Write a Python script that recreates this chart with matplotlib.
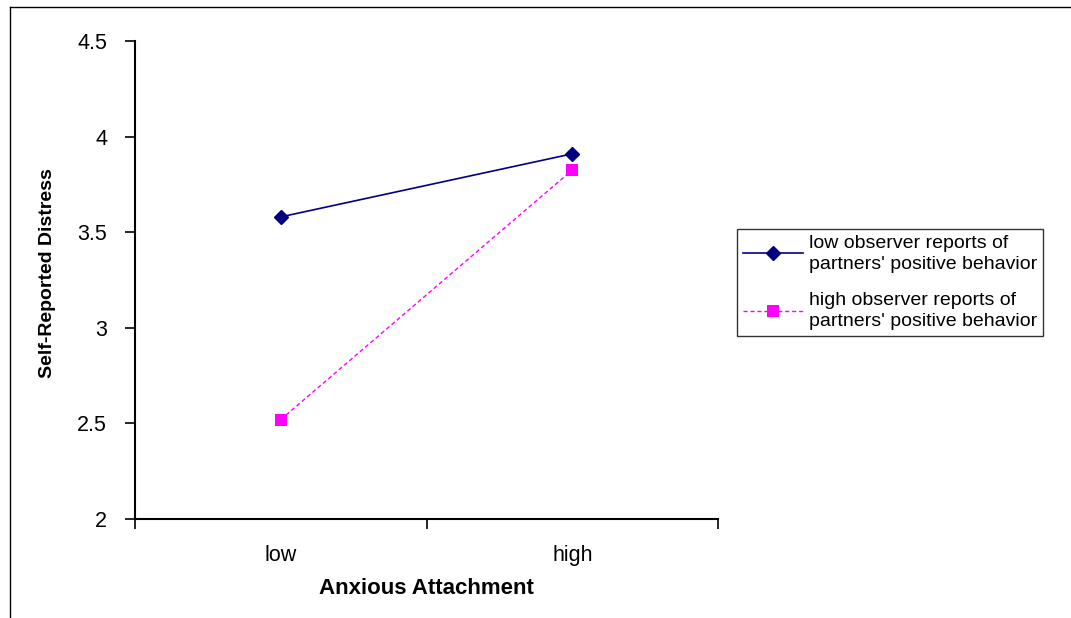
import matplotlib.pyplot as plt
from matplotlib.lines import Line2D

plt.rcParams['font.family'] = ['Liberation Sans', 'DejaVu Sans']

categories = ["low", "high"]
low_obs = [3.58, 3.91]
high_obs = [2.52, 3.825]
series_labels = [
    "low observer reports of\npartners' positive behavior",
    "high observer reports of\npartners' positive behavior",
]
yticks = [2, 2.5, 3, 3.5, 4, 4.5]

fig = plt.figure(figsize=(10.71, 6.18), dpi=100)
ax = fig.add_axes([135 / 1071, 1 - 519 / 618, 583 / 1071, 478 / 618])

x = list(range(len(categories)))
ax.plot(x, low_obs, color='#000080', lw=1.2, marker='D', ms=7,
        label=series_labels[0])
ax.plot(x, high_obs, color='#ff00ff', lw=1.0, ls=(0, (3, 2)), marker='s',
        ms=9, markeredgewidth=0, label=series_labels[1])

ax.set_xlim(-0.5, 1.5)
ax.set_ylim(2, 4.5)
ax.set_yticks(yticks)
ax.set_yticklabels([f"{t:g}" for t in yticks], fontsize=15.5)
ax.set_xticks([-0.5, 0.5, 1.5])
ax.set_xticklabels([])
ax.set_xticks(x, minor=True)
ax.set_xticklabels(categories, minor=True, fontsize=15.5)
ax.tick_params(axis='x', which='minor', length=0, pad=19)
ax.tick_params(axis='both', which='major', length=7, width=1.2, direction='out')
ax.tick_params(axis='y', pad=13)

for s in ['top', 'right']:
    ax.spines[s].set_visible(False)
for s in ['left', 'bottom']:
    ax.spines[s].set_linewidth(1.5)

ax.set_xlabel("Anxious Attachment", fontsize=16, fontweight='bold', labelpad=8)
ax.set_ylabel("Self-Reported Distress", fontsize=14, fontweight='bold')
ax.yaxis.set_label_coords(-0.136, 0.515)

leg = fig.legend(loc='upper left', bbox_to_anchor=(737 / 1071, 1 - 229 / 618),
                 fontsize=14, frameon=True, fancybox=False, handlelength=3.1,
                 borderaxespad=0, labelspacing=1.0, handletextpad=0.3,
                 borderpad=0.3)
leg.get_frame().set_edgecolor('black')
leg.get_frame().set_linewidth(1.0)
for t in leg.get_texts():
    t.set_linespacing(1.3)

# outer chart border (left and top edges visible)
fig.add_artist(Line2D([10 / 1071, 10 / 1071], [0, 1 - 7 / 618],
                      transform=fig.transFigure, color='black', lw=1))
fig.add_artist(Line2D([10 / 1071, 1], [1 - 7 / 618, 1 - 7 / 618],
                      transform=fig.transFigure, color='black', lw=1))

fig.savefig("out.png", dpi=100)
